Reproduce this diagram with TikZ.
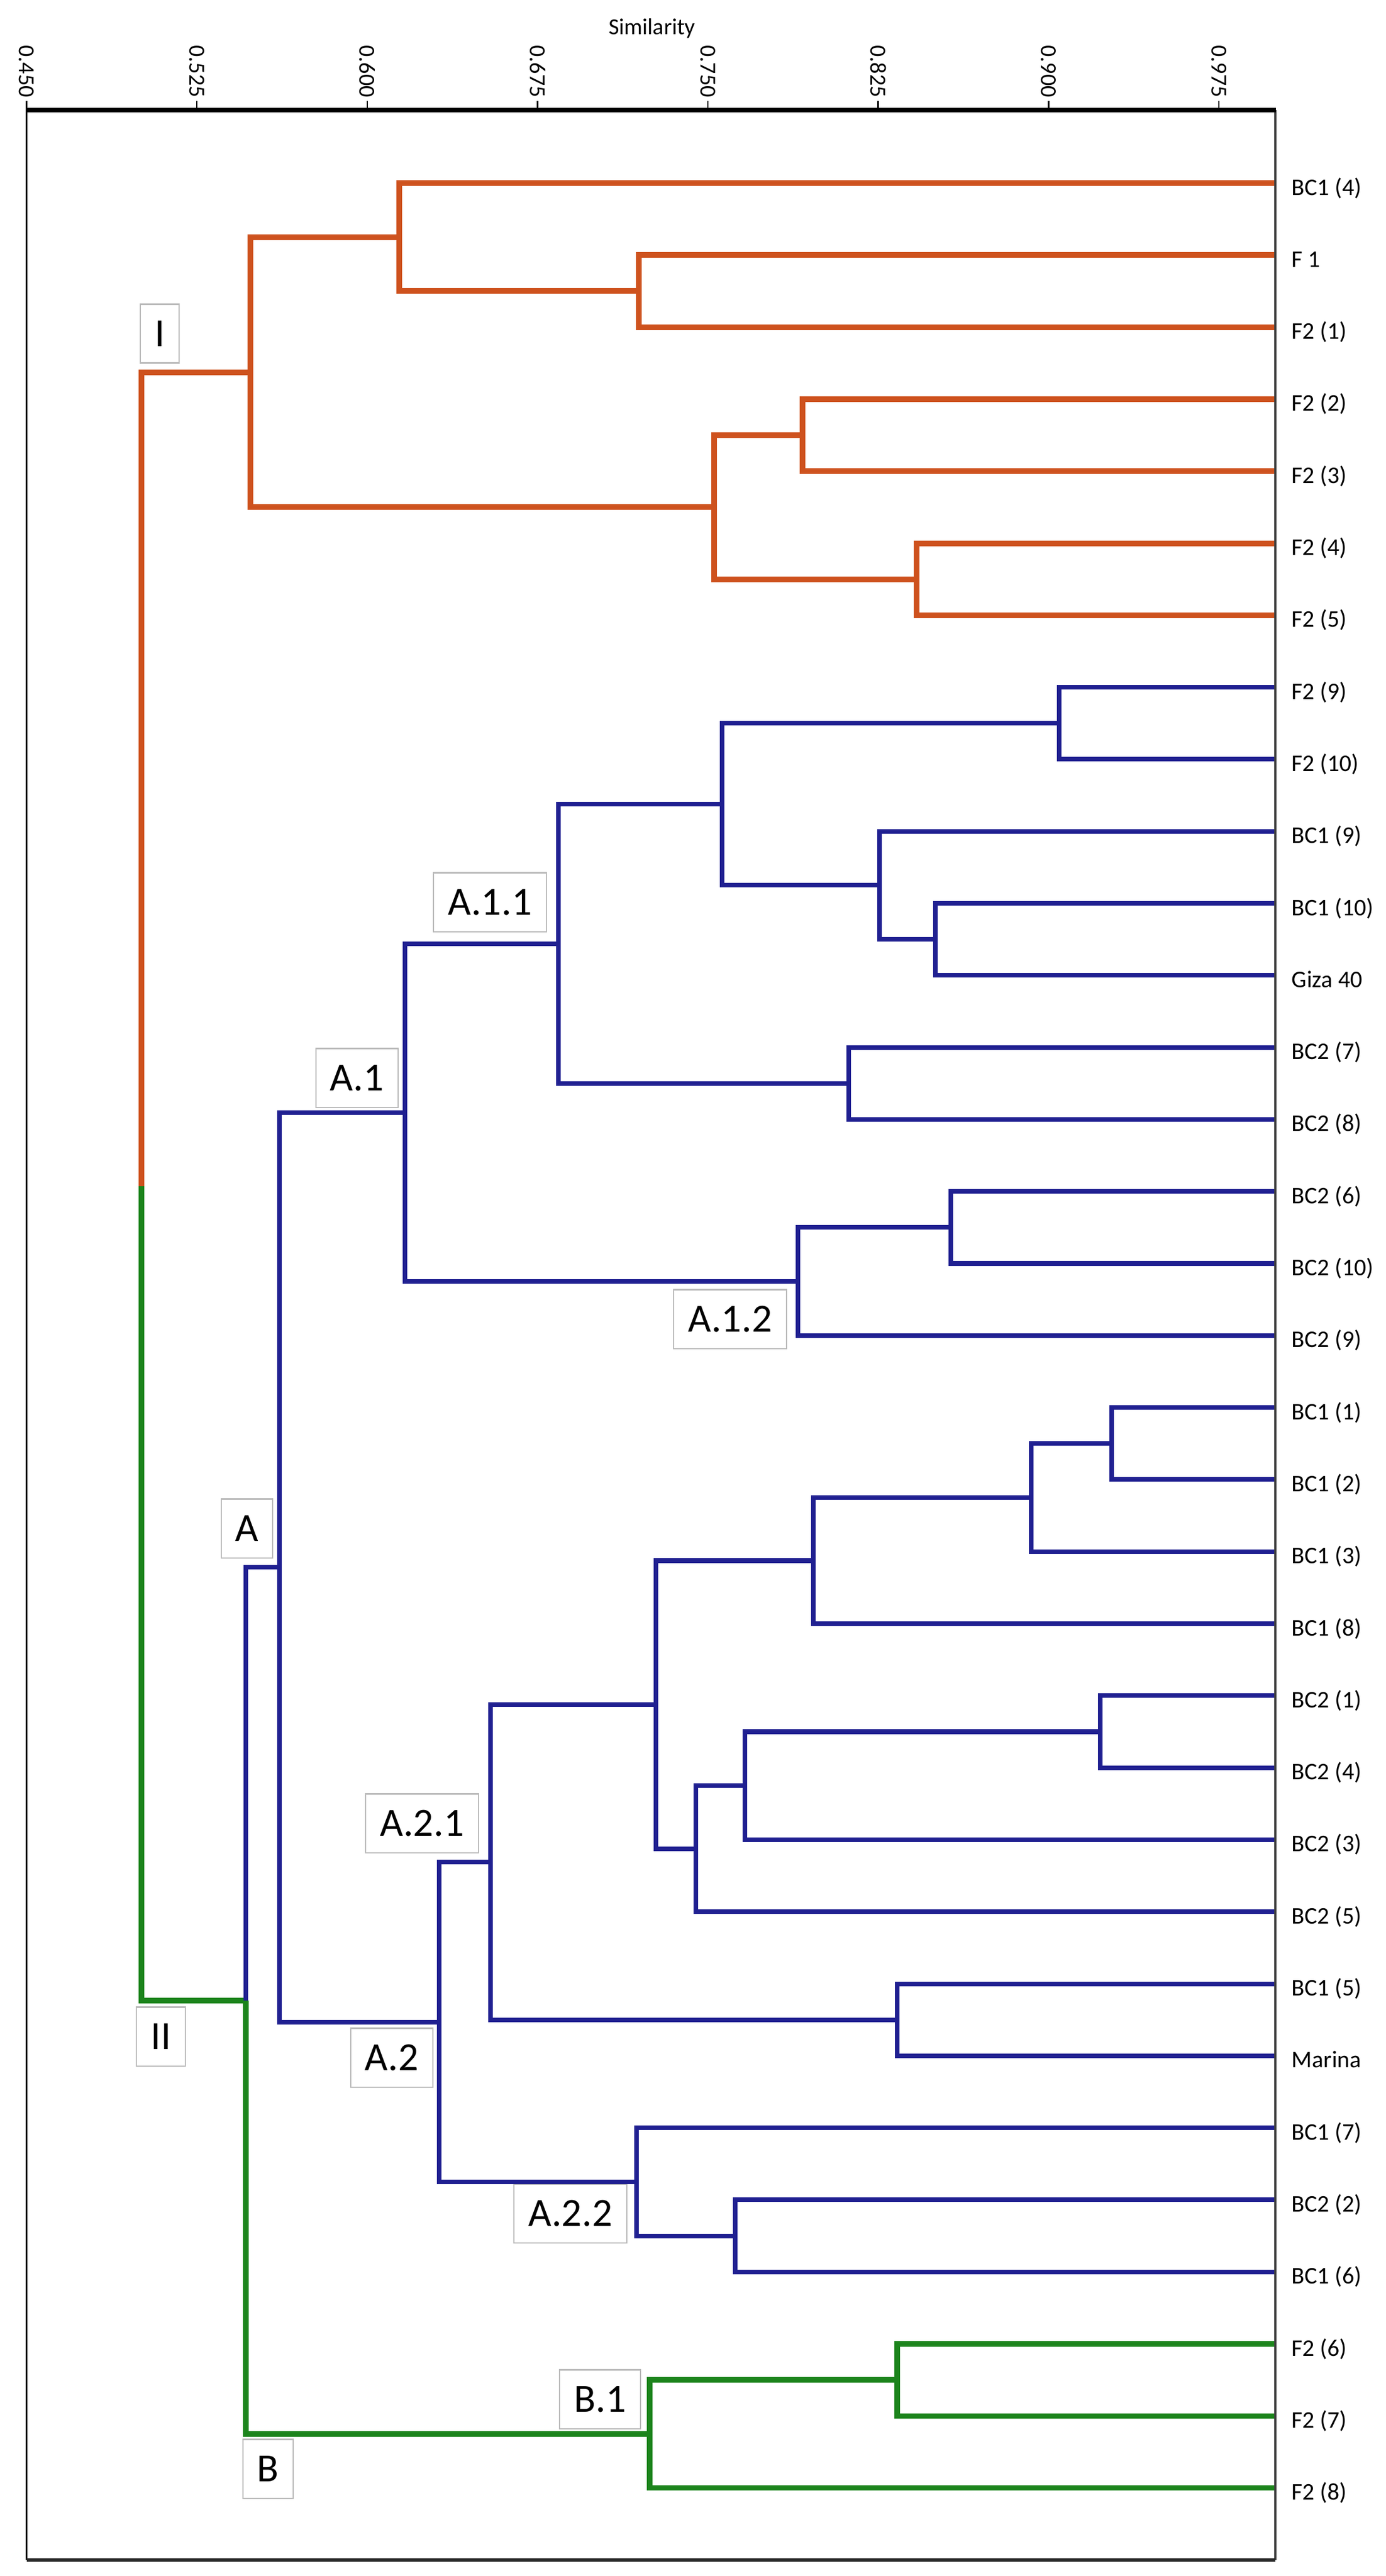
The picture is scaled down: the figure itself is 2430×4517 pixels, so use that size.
\documentclass[tikz,border=0pt]{standalone}
\usepackage{fontspec}
\setmainfont{Carlito}
\definecolor{orng}{RGB}{206,82,30}
\definecolor{navy}{RGB}{32,32,145}
\definecolor{grn}{RGB}{28,132,28}
\begin{document}
\begin{tikzpicture}[x=0.01cm,y=-0.01cm,
  ob/.style={draw=orng,line width=2.85pt},
  bb/.style={draw=navy,line width=2.3pt},
  gb/.style={draw=grn,line width=2.75pt},
  leaf/.style={anchor=base west,inner sep=0pt,font=\fontsize{11.9}{14}\selectfont},
  clus/.style={draw=gray!55,line width=0.6pt,fill=white,inner xsep=0.25cm,inner ysep=0pt,minimum height=1.03cm,font=\fontsize{19.9}{24}\selectfont},
  ticklab/.style={rotate=-90,inner sep=0pt,font=\fontsize{11.4}{13}\selectfont},
  tickline/.style={draw=black,line width=0.7pt}
]
\useasboundingbox (0,0) rectangle (2430,4517);

% axis title and ticks
\node[font=\fontsize{11.4}{13}\selectfont] (sim) at (1143,50) {Similarity};
\foreach \v [count=\k from 0] in {0.450,0.525,0.600,0.675,0.750,0.825,0.900,0.975}{
  \draw[tickline] ({46.5+\k*298.63},193) -- ++(0,-16);
  \node[ticklab] (tl\k) at ({46.5+\k*298.63},125) {\v};
}

% cluster labels (boxes)
\node[clus] (kI)   at (280,585)  {I};
\node[clus] (kA11) at (859,1582) {A.1.1};
\node[clus] (kA1)  at (626,1890) {A.1};
\node[clus] (kA12) at (1280,2313) {A.1.2};
\node[clus] (kA)   at (433,2680) {A};
\node[clus] (kA21) at (740,3197) {A.2.1};
\node[clus] (kII)  at (282,3571) {II};
\node[clus] (kA2)  at (687,3608) {A.2};
\node[clus] (kA22) at (1000,3881) {A.2.2};
\node[clus] (kB1)  at (1052,4207) {B.1};
\node[clus] (kB)   at (470,4329) {B};

% leaves
\foreach \i/\t in {0/BC1 (4),1/F 1,2/F2 (1),3/F2 (2),4/F2 (3),5/F2 (4),6/F2 (5),
  7/F2 (9),8/F2 (10),9/BC1 (9),10/BC1 (10),11/Giza 40,12/BC2 (7),13/BC2 (8),
  14/BC2 (6),15/BC2 (10),16/BC2 (9),17/BC1 (1),18/BC1 (2),19/BC1 (3),20/BC1 (8),
  21/BC2 (1),22/BC2 (4),23/BC2 (3),24/BC2 (5),25/BC1 (5),26/Marina,27/BC1 (7),
  28/BC2 (2),29/BC1 (6),30/F2 (6),31/F2 (7),32/F2 (8)}{
  \coordinate (L\i) at (2236,{321+126.3*\i});
  \node[leaf] (t\i) at (2264,{321+126.3*\i+21}) {\t};
}

% internal nodes
\coordinate (o1) at (1120,510.45);
\coordinate (o2) at (700,415.7);
\coordinate (o3) at (1407,763.05);
\coordinate (o4) at (1607,1015.65);
\coordinate (o5) at (1252,889.35);
\coordinate (o6) at (439,652.5);
\coordinate (b1) at (1857,1268.25);
\coordinate (b2) at (1640,1647.15);
\coordinate (b3) at (1542,1552.4);
\coordinate (b4) at (1266,1410.3);
\coordinate (b5) at (1488,1899.75);
\coordinate (A11) at (979,1655);
\coordinate (b6) at (1667,2152.35);
\coordinate (A12) at (1399,2247.1);
\coordinate (A1) at (710,1951.05);
\coordinate (c1) at (1949,2531.25);
\coordinate (c2) at (1808,2625.98);
\coordinate (c3) at (1426,2736.5);
\coordinate (c4) at (1929,3036.45);
\coordinate (c5) at (1306,3131.2);
\coordinate (c6) at (1220,3241.7);
\coordinate (c7) at (1150,2989.1);
\coordinate (c8) at (1573,3541.65);
\coordinate (A21) at (860,3265.4);
\coordinate (c9) at (1289,3920.55);
\coordinate (A22) at (1116,3825.8);
\coordinate (A2) at (770,3545.6);
\coordinate (A) at (490,2748.3);
\coordinate (d1) at (1573,4173.15);
\coordinate (B1) at (1139,4267.9);
\coordinate (II) at (431,3508.1);
\coordinate (R) at (248,2080.3);

% cluster I (orange)
\draw[ob] (o1) |- (L1);  \draw[ob] (o1) |- (L2);
\draw[ob] (o2) |- (L0);  \draw[ob] (o2) |- (o1);
\draw[ob] (o3) |- (L3);  \draw[ob] (o3) |- (L4);
\draw[ob] (o4) |- (L5);  \draw[ob] (o4) |- (L6);
\draw[ob] (o5) |- (o3);  \draw[ob] (o5) |- (o4);
\draw[ob] (o6) |- (o2);  \draw[ob] (o6) |- (o5);
\draw[ob] (R) |- (o6);
% cluster II
\draw[gb] (R) |- (II);
\draw[bb] (II) |- (A);
\draw[gb] (II) |- (B1);
% A (blue)
\draw[bb] (A) |- (A1);   \draw[bb] (A) |- (A2);
\draw[bb] (A1) |- (A11); \draw[bb] (A1) |- (A12);
\draw[bb] (A11) |- (b4); \draw[bb] (A11) |- (b5);
\draw[bb] (b4) |- (b1);  \draw[bb] (b4) |- (b3);
\draw[bb] (b1) |- (L7);  \draw[bb] (b1) |- (L8);
\draw[bb] (b3) |- (L9);  \draw[bb] (b3) |- (b2);
\draw[bb] (b2) |- (L10); \draw[bb] (b2) |- (L11);
\draw[bb] (b5) |- (L12); \draw[bb] (b5) |- (L13);
\draw[bb] (A12) |- (b6); \draw[bb] (A12) |- (L16);
\draw[bb] (b6) |- (L14); \draw[bb] (b6) |- (L15);
\draw[bb] (A2) |- (A21); \draw[bb] (A2) |- (A22);
\draw[bb] (A21) |- (c7); \draw[bb] (A21) |- (c8);
\draw[bb] (c7) |- (c3);  \draw[bb] (c7) |- (c6);
\draw[bb] (c3) |- (c2);  \draw[bb] (c3) |- (L20);
\draw[bb] (c2) |- (c1);  \draw[bb] (c2) |- (L19);
\draw[bb] (c1) |- (L17); \draw[bb] (c1) |- (L18);
\draw[bb] (c6) |- (c5);  \draw[bb] (c6) |- (L24);
\draw[bb] (c5) |- (c4);  \draw[bb] (c5) |- (L23);
\draw[bb] (c4) |- (L21); \draw[bb] (c4) |- (L22);
\draw[bb] (c8) |- (L25); \draw[bb] (c8) |- (L26);
\draw[bb] (A22) |- (L27); \draw[bb] (A22) |- (c9);
\draw[bb] (c9) |- (L28); \draw[bb] (c9) |- (L29);
% B (green)
\draw[gb] (B1) |- (d1);  \draw[gb] (B1) |- (L32);
\draw[gb] (d1) |- (L30); \draw[gb] (d1) |- (L31);

% frame
\draw[line width=0.9pt,black] (46.5,193) -- (46.5,4489);
\draw[line width=1.3pt,black!75] (2236,193) -- (2236,4489);
\draw[line width=1.6pt,black!85] (46.5,4489) -- (2236,4489);
\draw[line width=2pt,black] (45,193) -- (2237,193);
\end{tikzpicture}
\end{document}
